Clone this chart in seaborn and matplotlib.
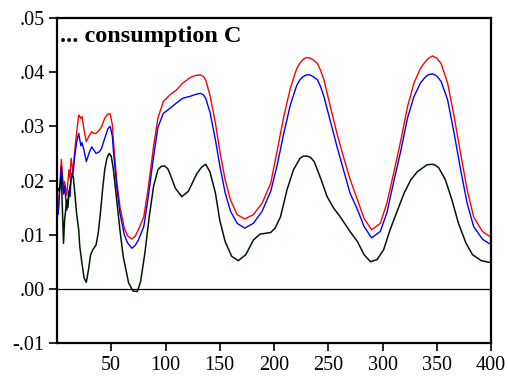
import matplotlib
matplotlib.use("Agg")
import matplotlib.pyplot as plt
import seaborn as sns
from matplotlib.ticker import FuncFormatter, FixedLocator

# ---------------- data ----------------
red_x = [1, 4, 6, 7, 9, 11, 12, 13, 15, 16, 18, 20, 22, 23, 25, 27, 30, 32, 34, 36,
         39, 41, 44, 47, 49, 51, 52, 55, 58, 62, 65, 69, 72, 75, 80, 84, 89, 93, 98,
         104, 110, 116, 122, 125, 128, 132, 135, 137, 141, 146, 150, 155, 160, 166, 173, 181,
         189, 197, 203, 209, 215, 221, 224, 227, 230, 233, 236, 240, 243, 246, 252, 258, 264,
         270, 277, 283, 290, 298, 304, 310, 317, 323, 329, 335, 339, 342, 346, 350, 354,
         360, 366, 372, 378, 384, 392, 398, 400]
red_y = [.0137, .0239, .0183, .0198, .0173, .0220, .0204, .0241, .0213, .0247, .0287,
         .0321, .0315, .0318, .0293, .0272, .0284, .0290, .0287, .0287, .0293, .0299,
         .0315, .0323, .0323, .0303, .0272, .0201, .0152, .0112, .0098, .0092, .0097,
         .0109, .0133, .0185, .0263, .0315, .0346, .0358, .0367, .0380, .0389, .0392,
         .0394, .0395, .0392, .0386, .0357, .0306, .0255, .0201, .0164, .0137, .0129,
         .0137, .0158, .0195, .0256, .0318, .0370, .0407, .0417, .0424, .0427, .0426,
         .0423, .0416, .0403, .0386, .0336, .0287, .0244, .0203, .0164, .0130, .0109,
         .0121, .0158, .0211, .0275, .0336, .0380, .0407, .0418, .0425, .0430, .0426,
         .0416, .0380, .0318, .0250, .0183, .0133, .0106, .0098, .0096]

blue_x = red_x
blue_y = [.0137, .0225, .0175, .0190, .0145, .0180, .0170, .0204, .0222, .0240, .0270,
          .0287, .0264, .0270, .0255, .0235, .0253, .0262, .0256, .0250, .0253, .0259,
          .0278, .0296, .0300, .0282, .0255, .0189, .0140, .0100, .0085, .0075, .0080,
          .0090, .0115, .0168, .0244, .0298, .0324, .0333, .0343, .0352, .0355, .0357,
          .0359, .0361, .0358, .0352, .0326, .0275, .0228, .0177, .0143, .0121, .0112,
          .0121, .0143, .0180, .0229, .0287, .0339, .0376, .0386, .0392, .0395, .0395,
          .0392, .0386, .0373, .0355, .0309, .0263, .0220, .0177, .0146, .0115, .0094,
          .0106, .0140, .0195, .0256, .0315, .0355, .0380, .0390, .0395, .0397, .0393,
          .0383, .0349, .0287, .0220, .0158, .0115, .0092, .0084, .0083]

black_x = [1, 2, 4, 5, 6, 7, 9, 10, 11, 13, 14, 15, 17, 18, 20, 21, 23, 25, 27, 29,
           31, 33, 36, 38, 40, 42, 44, 46, 48, 50, 52, 55, 58, 61, 66, 70, 74, 77, 81,
           85, 89, 93, 96, 99, 102, 104, 109, 115, 121, 129, 133, 137, 141, 146, 150, 155,
           161, 167, 174, 181, 187, 197, 201, 206, 212, 218, 224, 227, 231, 234, 237, 243,
           249, 255, 261, 270, 277, 283, 289, 295, 301, 307, 314, 320, 326, 332, 341, 346,
           349, 352, 358, 364, 370, 377, 383, 391, 398, 400]
black_y = [.0186, .0180, .0207, .0146, .0084, .0127, .0164, .0150, .0177, .0201, .0213,
           .0207, .0164, .0140, .0109, .0078, .0047, .0020, .0012, .0035, .0063, .0072,
           .0081, .0103, .0140, .0183, .0220, .0241, .0250, .0245, .0220, .0164, .0109,
           .0060, .0011, -.0004, -.0005, .0013, .0066, .0133, .0189, .0220, .0226, .0227,
           .0222, .0213, .0186, .0170, .0180, .0213, .0224, .0230, .0216, .0177, .0127,
           .0087, .0060, .0052, .0063, .0090, .0101, .0104, .0112, .0133, .0183, .0220,
           .0241, .0245, .0245, .0242, .0235, .0204, .0170, .0149, .0133, .0106, .0087,
           .0063, .0050, .0054, .0072, .0109, .0146, .0177, .0201, .0216, .0229, .0230,
           .0228, .0223, .0201, .0164, .0121, .0084, .0063, .0052, .0049, .0049]

x_ticks = [50, 100, 150, 200, 250, 300, 350, 400]
y_ticks = [-.01, .00, .01, .02, .03, .04, .05]
title_text = "... consumption C"

# ---------------- plot ----------------
sns.set_theme(style="white")
plt.rcParams['font.family'] = ['Liberation Serif', 'DejaVu Serif']

fig = plt.figure(figsize=(5.08, 3.81), dpi=100)
ax = fig.add_axes([57/508, 1 - 343/381, (491 - 57)/508, (343 - 18)/381])

ax.axhline(0, color='black', lw=0.9, zorder=1)
sns.lineplot(x=red_x, y=red_y, ax=ax, color='#ff0000', lw=1.0, estimator=None, sort=False)
sns.lineplot(x=blue_x, y=blue_y, ax=ax, color='#0000ff', lw=1.0, estimator=None, sort=False)
sns.lineplot(x=black_x, y=black_y, ax=ax, color='#001800', lw=1.1, estimator=None, sort=False)

ax.set_xlim(0, 400)
ax.set_ylim(-0.01, 0.05)
ax.xaxis.set_major_locator(FixedLocator(x_ticks))
ax.yaxis.set_major_locator(FixedLocator(y_ticks))

def yfmt(v, pos):
    s = f"{v:.2f}"
    if s.startswith("-0"):
        s = "-" + s[2:]
    elif s.startswith("0"):
        s = s[1:]
    return s

ax.yaxis.set_major_formatter(FuncFormatter(yfmt))
ax.tick_params(axis='both', which='major', direction='out', length=6, width=1.2,
               color='black', labelsize=14.5, labelcolor='black', pad=3,
               left=True, bottom=True, top=False, right=False)
for sp in ax.spines.values():
    sp.set_visible(True)
    sp.set_color('black')
    sp.set_linewidth(1.6)

ax.set_xlabel("")
ax.set_ylabel("")
ax.text(0.007, (343 - 42) / 325, title_text, transform=ax.transAxes, ha='left',
        va='baseline', fontsize=17.5, fontweight='bold', color='black')

fig.savefig("out.png", dpi=100, facecolor='white')
